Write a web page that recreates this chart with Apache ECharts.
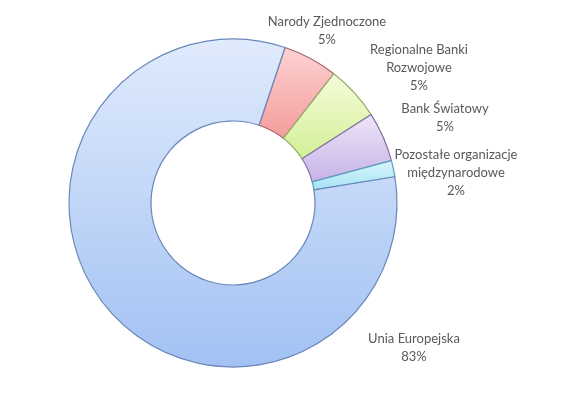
<!DOCTYPE html>
<html>
<head>
<meta charset="utf-8">
<script src="https://cdn.jsdelivr.net/npm/echarts@6/dist/echarts.min.js"></script>
<style>
html,body{margin:0;padding:0;background:#fff;}
#c{width:563px;height:400px;}
</style>
</head>
<body>
<div id="c"></div>
<script>
var categories = ['Narody Zjednoczone', 'Regionalne Banki\nRozwojowe', 'Bank Światowy', 'Pozostałe organizacje\nmiędzynarodowe', 'Unia Europejska'];
var values = [5.4, 5.4, 4.9, 1.6, 82.7];

// styling (not data)
var fills = [
  ['#fdd3d2', '#f39c9b'],
  ['#f5fcdc', '#d3ef95'],
  ['#eee6f8', '#c6b3e7'],
  ['#daf6fd', '#a5e3f4'],
  ['#e0ebfc', '#a2c1f3']
];
var borders = ['#a8606c', '#98ad68', '#8470a8', '#5a9ec0', '#6a87b9'];
var labelPos = [[327, 31], [419, 68], [445, 118], [456, 173], [414, 348]];

var chart = echarts.init(document.getElementById('c'));
chart.setOption({
  backgroundColor: '#ffffff',
  animation: false,
  series: [{
    type: 'pie',
    center: [233, 203],
    radius: [82, 164],
    startAngle: 71.5,
    clockwise: true,
    avoidLabelOverlap: false,
    label: {
      show: true,
      position: 'outside',
      fontFamily: 'Lato',
      fontSize: 13,
      lineHeight: 18,
      color: '#595959',
      align: 'center',
      formatter: function (p) { return p.name + '\n' + Math.round(p.percent) + '%'; }
    },
    labelLine: { show: false },
    labelLayout: function (p) {
      var pos = labelPos[p.dataIndex];
      return { x: pos[0], y: pos[1], align: 'center', verticalAlign: 'middle' };
    },
    emphasis: { disabled: true },
    data: categories.map(function (c, i) {
      return {
        name: c,
        value: values[i],
        itemStyle: {
          color: new echarts.graphic.LinearGradient(0, 0, 0, 1, [
            { offset: 0, color: fills[i][0] },
            { offset: 1, color: fills[i][1] }
          ]),
          borderColor: borders[i],
          borderWidth: 1.2
        }
      };
    })
  }]
});
</script>
</body>
</html>
